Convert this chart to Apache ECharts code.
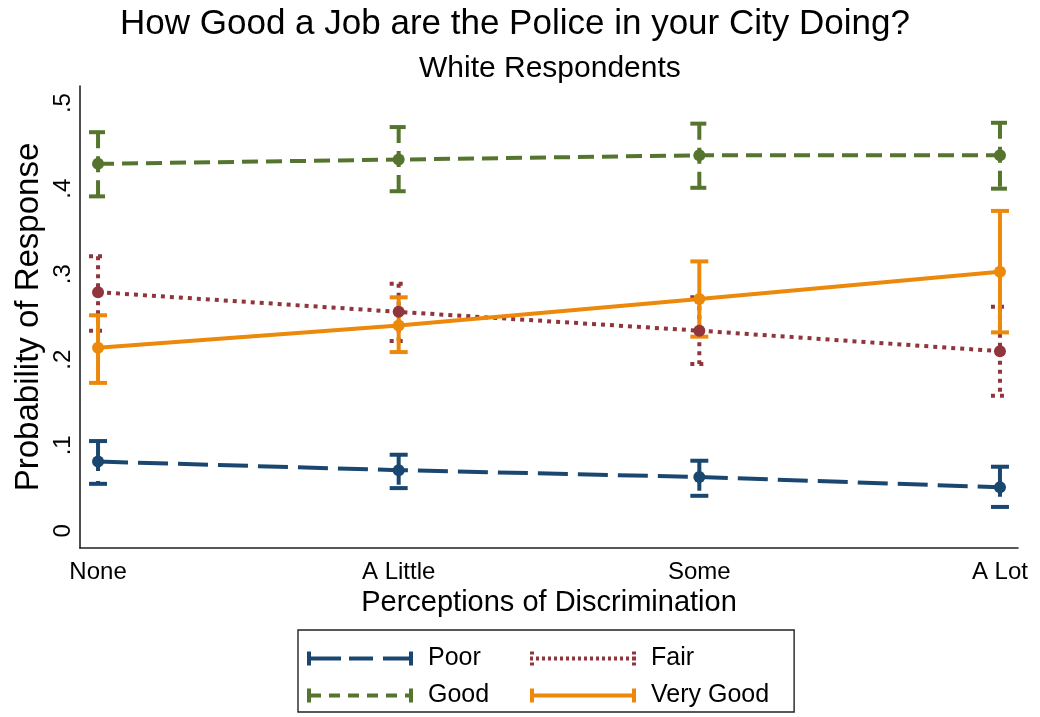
<!DOCTYPE html>
<html>
<head>
<meta charset="utf-8">
<title>How Good a Job are the Police in your City Doing?</title>
<script src="https://cdn.jsdelivr.net/npm/echarts@6/dist/echarts.min.js"></script>
<style>
  html, body { margin: 0; padding: 0; background: #ffffff; }
  #chart { width: 1040px; height: 717px; }
</style>
</head>
<body>
<div id="chart"></div>
<script>
// Perceived discrimination levels (x axis)
const categories = ['None', 'A Little', 'Some', 'A Lot'];

// Predicted probabilities with 95% confidence bounds
const poor      = [0.081, 0.071, 0.063, 0.051];
const poorLo    = [0.055, 0.050, 0.041, 0.028];
const poorHi    = [0.105, 0.089, 0.082, 0.075];

const fair      = [0.279, 0.256, 0.234, 0.210];
const fairLo    = [0.234, 0.222, 0.195, 0.158];
const fairHi    = [0.321, 0.289, 0.273, 0.262];

const good      = [0.429, 0.434, 0.439, 0.439];
const goodLo    = [0.391, 0.397, 0.401, 0.400];
const goodHi    = [0.466, 0.472, 0.476, 0.477];

const veryGood   = [0.214, 0.240, 0.271, 0.303];
const veryGoodLo = [0.173, 0.209, 0.227, 0.232];
const veryGoodHi = [0.252, 0.273, 0.315, 0.374];

// Y tick labels
const yTickLabels = { 0: '0', 1: '.1', 2: '.2', 3: '.3', 4: '.4', 5: '.5' };

const FONT = "'Liberation Sans', Arial, Helvetica, sans-serif";
const COLORS = {
  poor: '#1a476f',
  fair: '#90353b',
  good: '#55752f',
  veryGood: '#ec880a'
};
const DASH = {
  poor: [30, 10],
  fair: [4, 5],
  good: [16, 8],
  veryGood: null
};

// Legend key: a horizontal capped bar made of filled segments (106 x 14 box)
function keyPath(segments, capDotted) {
  const parts = [];
  const rect = (x0, y0, x1, y1) =>
    `M${x0} ${y0}L${x1} ${y0}L${x1} ${y1}L${x0} ${y1}Z`;
  segments.forEach(s => parts.push(rect(s[0], 5, s[1], 9)));
  [[0, 4], [102, 106]].forEach(c => {
    if (capDotted) {
      parts.push(rect(c[0], 0, c[1], 3));
      parts.push(rect(c[0], 11, c[1], 14));
    } else {
      parts.push(rect(c[0], 0, c[1], 14));
    }
  });
  return 'path://' + parts.join('');
}
function dots() {
  const s = [];
  for (let x = 0; x < 106; x += 6) s.push([x, Math.min(x + 3, 106)]);
  s.push([103, 106]);
  return s;
}
const legendIcons = {
  poor: keyPath([[0, 34], [42, 66], [76, 106]], false),
  fair: keyPath(dots(), true),
  good: keyPath([[0, 14], [22, 33], [41, 52], [60, 71], [79, 90], [98, 106]], false),
  veryGood: keyPath([[0, 106]], false)
};

function pairs(values) {
  return values.map((v, i) => [i, v]);
}

function lineSeries(name, values, color, dash) {
  return {
    type: 'line',
    name: name,
    data: pairs(values),
    z: 3,
    symbol: 'circle',
    symbolSize: 12,
    showSymbol: true,
    silent: true,
    itemStyle: { color: color, borderWidth: 0 },
    lineStyle: { color: color, width: 4, type: dash || 'solid', cap: 'butt' },
    emphasis: { disabled: true },
    animation: false
  };
}

function capSeries(name, lo, hi, color, dash) {
  return {
    type: 'custom',
    name: name,
    z: 2,
    silent: true,
    animation: false,
    itemStyle: { color: color },
    data: lo.map((l, i) => [i, l, hi[i]]),
    encode: { x: 0, y: [1, 2] },
    renderItem: function (params, api) {
      const x = api.value(0);
      const top = api.coord([x, api.value(2)]);
      const bot = api.coord([x, api.value(1)]);
      const hw = 9;
      const style = {
        stroke: color,
        lineWidth: 4,
        lineDash: dash || null,
        fill: null,
        lineCap: 'butt'
      };
      return {
        type: 'group',
        children: [
          { type: 'line', shape: { x1: top[0], y1: top[1], x2: bot[0], y2: bot[1] }, style: style },
          { type: 'line', shape: { x1: top[0] - hw, y1: top[1], x2: top[0] + hw, y2: top[1] }, style: style },
          { type: 'line', shape: { x1: bot[0] - hw, y1: bot[1], x2: bot[0] + hw, y2: bot[1] }, style: style }
        ]
      };
    }
  };
}

const chart = echarts.init(document.getElementById('chart'), null, { renderer: 'canvas' });

const option = {
  backgroundColor: '#ffffff',
  animation: false,
  textStyle: { fontFamily: FONT },
  title: [
    {
      text: 'How Good a Job are the Police in your City Doing?',
      left: 120,
      top: 7,
      padding: 0,
      textStyle: { fontFamily: FONT, fontSize: 35, fontWeight: 'normal', color: '#000' }
    },
    {
      text: 'White Respondents',
      left: 419,
      top: 54,
      padding: 0,
      textStyle: { fontFamily: FONT, fontSize: 30, fontWeight: 'normal', color: '#000' }
    }
  ],
  grid: { left: 80, right: 22, top: 86, bottom: 169, containLabel: false },
  xAxis: {
    type: 'value',
    min: -0.06,
    max: 3.06,
    interval: 0.02,
    name: 'Perceptions of Discrimination',
    nameLocation: 'middle',
    nameGap: 35,
    nameTextStyle: { fontFamily: FONT, fontSize: 29, color: '#000' },
    axisLine: { show: true, onZero: false, lineStyle: { color: '#222', width: 1.6 } },
    axisTick: { show: false },
    splitLine: { show: false },
    axisLabel: {
      margin: 12,
      fontFamily: FONT,
      fontSize: 24,
      color: '#000',
      formatter: function (v) {
        const r = Math.round(v);
        return Math.abs(v - r) < 1e-6 && categories[r] !== undefined ? categories[r] : '';
      }
    }
  },
  yAxis: {
    type: 'value',
    min: -0.02,
    max: 0.52,
    interval: 0.02,
    name: 'Probability of Response',
    nameLocation: 'middle',
    nameGap: 35,
    nameMoveOverlap: false,
    nameTextStyle: { fontFamily: FONT, fontSize: 33, color: '#000' },
    axisLine: { show: true, onZero: false, lineStyle: { color: '#222', width: 1.6 } },
    axisTick: { show: false },
    splitLine: { show: false },
    axisLabel: {
      rotate: 90,
      margin: 5,
      fontFamily: FONT,
      fontSize: 24,
      color: '#000',
      formatter: function (v) {
        const r = Math.round(v * 10);
        return Math.abs(v * 10 - r) < 1e-6 && yTickLabels[r] !== undefined ? yTickLabels[r] : '';
      }
    }
  },
  legend: {
    left: 298,
    top: 630,
    width: 480,
    orient: 'horizontal',
    selectedMode: false,
    itemWidth: 106,
    itemHeight: 14,
    itemGap: 12,
    padding: [16, 25, 4, 9],
    borderColor: '#222',
    borderWidth: 1.4,
    backgroundColor: '#fff',
    itemStyle: { borderWidth: 0 },
    textStyle: {
      fontFamily: FONT,
      fontSize: 25,
      color: '#000',
      width: 90,
      lineHeight: 23,
      padding: [0, 0, 0, 10]
    },
    data: [
      { name: 'Poor', icon: legendIcons.poor },
      { name: 'Fair', icon: legendIcons.fair },
      { name: 'Good', icon: legendIcons.good },
      { name: 'Very Good', icon: legendIcons.veryGood }
    ]
  },
  series: [
    capSeries('Poor', poorLo, poorHi, COLORS.poor, DASH.poor),
    capSeries('Fair', fairLo, fairHi, COLORS.fair, DASH.fair),
    capSeries('Good', goodLo, goodHi, COLORS.good, DASH.good),
    capSeries('Very Good', veryGoodLo, veryGoodHi, COLORS.veryGood, DASH.veryGood),
    lineSeries('Poor', poor, COLORS.poor, DASH.poor),
    lineSeries('Fair', fair, COLORS.fair, DASH.fair),
    lineSeries('Good', good, COLORS.good, DASH.good),
    lineSeries('Very Good', veryGood, COLORS.veryGood, DASH.veryGood)
  ]
};

chart.setOption(option);
</script>
</body>
</html>
